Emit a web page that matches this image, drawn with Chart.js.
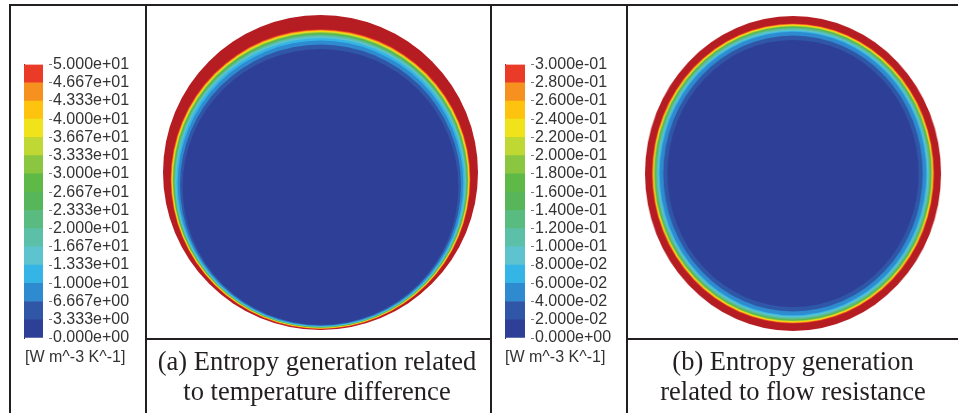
<!DOCTYPE html>
<html lang="en">
<head>
<meta charset="utf-8">
<title>Entropy generation contours</title>
<script src="https://cdn.jsdelivr.net/npm/chart.js"></script>
<style>
  body { margin: 0; width: 958px; height: 413px; background: #fff; position: relative; overflow: hidden; }
  .rule { position: absolute; background: #231f20; }
  canvas { position: absolute; }
  .unit { position: absolute; font: 16px "Liberation Sans", Arial, sans-serif; color: #333; white-space: nowrap; line-height: 20px; }
  .cap { position: absolute; font: 26.5px "Liberation Serif", "Times New Roman", serif; color: #231f20;
         text-align: center; line-height: 30px; white-space: nowrap; }
</style>
</head>
<body>
<!-- table rules -->
<div class="rule" style="left:9px; top:4px; width:949px; height:2px"></div>
<div class="rule" style="left:9px; top:4px; width:2px; height:409px"></div>
<div class="rule" style="left:145px; top:4px; width:2px; height:409px"></div>
<div class="rule" style="left:490px; top:4px; width:2px; height:409px"></div>
<div class="rule" style="left:626px; top:4px; width:2px; height:409px"></div>
<div class="rule" style="left:145px; top:338px; width:347px; height:2px"></div>
<div class="rule" style="left:626px; top:338px; width:332px; height:2px"></div>

<canvas id="legendA" width="134" height="407" style="left:11px; top:6px"></canvas>
<canvas id="fieldA" width="343" height="332" style="left:147px; top:6px; width:343px; height:332px"></canvas>
<canvas id="legendB" width="134" height="407" style="left:492px; top:6px"></canvas>
<!-- panel (b) is printed slightly narrower than tall -->
<canvas id="fieldB" width="351" height="332" style="left:628px; top:6px; width:330px; height:332px"></canvas>

<div class="unit" style="left:25px; top:347px">[W m^-3 K^-1]</div>
<div class="unit" style="left:505px; top:347px">[W m^-3 K^-1]</div>

<div class="cap" style="left:147px; width:340px; top:346px">(a) Entropy generation related<br>to temperature difference</div>
<div class="cap" style="left:628px; width:330px; top:346px">(b) Entropy generation<br>related to flow resistance</div>

<script>
// colour bands of the contour map, lowest level first
const bandColors = ['#2e3f97', '#3056a7', '#2e8bd0', '#35b5e6', '#5cc3cf', '#5cc0a9', '#5abb80',
                    '#57b65a', '#5fb946', '#8bc640', '#bfd834', '#f1e31b', '#fdc30f', '#f6911f', '#ea3a28'];
const overRangeColor = '#b51d23';

// legend tick labels, bottom to top
const ticksA = ['0.000e+00', '3.333e+00', '6.667e+00', '1.000e+01', '1.333e+01', '1.667e+01', '2.000e+01', '2.333e+01',
                '2.667e+01', '3.000e+01', '3.333e+01', '3.667e+01', '4.000e+01', '4.333e+01', '4.667e+01', '5.000e+01'];
const ticksB = ['0.000e+00', '2.000e-02', '4.000e-02', '6.000e-02', '8.000e-02', '1.000e-01', '1.200e-01', '1.400e-01',
                '1.600e-01', '1.800e-01', '2.000e-01', '2.200e-01', '2.400e-01', '2.600e-01', '2.800e-01', '3.000e-01'];

// (a) contour boundaries, outermost first. Coordinates in pipe radii, y upward.
// level = band that fills the inside of the boundary (15 = above legend range)
const levelA  = [15, 14, 13, 12, 11, 10, 9, 8, 7, 6, 5, 4, 3, 2, 1, 0];
const topA    = [1.000, 0.910, 0.905, 0.901, 0.897, 0.894, 0.890, 0.886, 0.882, 0.876, 0.871, 0.864, 0.854, 0.838, 0.813, 0.784];
const bottomA = [-1.000, -0.994, -0.992, -0.990, -0.988, -0.987, -0.985, -0.984, -0.983, -0.982, -0.980, -0.979, -0.977, -0.975, -0.971, -0.967];

// (b) concentric contour radii, outermost first
const levelB  = [15, 14, 13, 12, 11, 10, 9, 8, 7, 6, 5, 4, 3, 2, 1, 0];
const radiusB = [1.000, 0.953, 0.949, 0.946, 0.943, 0.940, 0.937, 0.934, 0.930, 0.927, 0.921, 0.914, 0.907, 0.900, 0.876, 0.848];

const levelColor = l => l >= bandColors.length ? overRangeColor : bandColors[l];

function buildLegend(id, labels, axisWidth) {
  const vals = labels.map(Number);
  const datasets = bandColors.map((c, i) => ({
    data: [[vals[i], vals[i + 1]]],
    backgroundColor: c,
    borderWidth: 0,
    barPercentage: 1,
    categoryPercentage: 1
  }));
  const lo = vals[0], hi = vals[vals.length - 1];
  new Chart(document.getElementById(id), {
    type: 'bar',
    data: { labels: [''], datasets },
    options: {
      responsive: false,
      animation: false,
      events: [],
      layout: { padding: { left: 13, top: 58.5, bottom: 75, right: 0 } },
      plugins: { legend: { display: false }, tooltip: { enabled: false } },
      scales: {
        x: { display: false, stacked: true },
        y: {
          position: 'right', min: lo, max: hi,
          afterBuildTicks: ax => { ax.ticks = vals.map(v => ({ value: v })); },
          afterFit: ax => { ax.width = axisWidth; },
          border: { display: false },
          grid: { drawOnChartArea: false, tickLength: 9, tickColor: '#777', tickBorderDash: [0, 6, 3, 20] },
          ticks: {
            callback: (v, i) => labels[i],
            color: '#333', padding: 1, autoSkip: false, maxRotation: 0,
            font: { family: '"Liberation Sans", Arial, sans-serif', size: 16 }
          }
        },
        yl: {
          position: 'left', min: lo, max: hi,
          ticks: { display: false }, grid: { display: false },
          border: { display: true, color: '#333', width: 1 },
          afterFit: ax => { ax.width = 0; }
        }
      }
    }
  });
}

// canvas size, circle centre and radius in px -> axis range in pipe radii
function axisRange(size, centre, radius, flip) {
  const a = -centre / radius, b = (size - centre) / radius;
  return flip ? { min: -b, max: -a } : { min: a, max: b };
}

function buildField(id, pts, colors, box) {
  const canvas = document.getElementById(id);
  const xr = axisRange(canvas.width, box.cx, box.r, false);
  const yr = axisRange(canvas.height, box.cy, box.r, true);
  new Chart(canvas, {
    type: 'scatter',
    data: {
      datasets: [{
        data: pts,
        pointBackgroundColor: colors,
        pointBorderWidth: 0,
        pointRadius: ctx => {
          const s = ctx.chart.scales.x;
          return Math.abs(s.getPixelForValue(ctx.raw.r) - s.getPixelForValue(0));
        },
        clip: false
      }]
    },
    options: {
      responsive: false,
      animation: false,
      events: [],
      layout: { padding: 0 },
      plugins: { legend: { display: false }, tooltip: { enabled: false } },
      scales: {
        x: { type: 'linear', display: false, min: xr.min, max: xr.max },
        y: { type: 'linear', display: false, min: yr.min, max: yr.max }
      }
    }
  });
}

buildLegend('legendA', ticksA, 102);
buildLegend('legendB', ticksB, 101);

buildField('fieldA',
  topA.map((t, i) => ({ x: 0, y: (t + bottomA[i]) / 2, r: (t - bottomA[i]) / 2 })),
  levelA.map(levelColor),
  { cx: 173.5, cy: 166.5, r: 157.5 });

buildField('fieldB',
  radiusB.map(r => ({ x: 0, y: 0, r })),
  levelB.map(levelColor),
  { cx: 175.5, cy: 167.5, r: 157.5 });
</script>
</body>
</html>
